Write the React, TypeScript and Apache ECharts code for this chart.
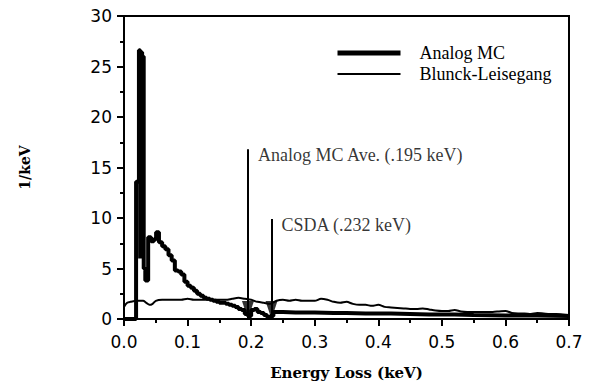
import React, { useEffect, useRef } from "react";
import * as echarts from "echarts";

// Analog MC histogram: bin left edges (keV) and heights (1/keV)
const analogEnergy = [
  0, 0.019, 0.0235, 0.0255, 0.0265, 0.0285, 0.0295, 0.031, 0.0335, 0.038,
  0.0425, 0.047, 0.0505, 0.055, 0.06, 0.065, 0.07, 0.075, 0.08, 0.085,
  0.09, 0.095, 0.1, 0.105, 0.11, 0.115, 0.12, 0.125, 0.13, 0.135,
  0.14, 0.145, 0.15, 0.155, 0.16, 0.165, 0.17, 0.175, 0.18, 0.185,
  0.19, 0.195, 0.2, 0.205, 0.21, 0.215, 0.22, 0.225, 0.23, 0.235,
  0.24, 0.25, 0.27, 0.3, 0.33, 0.35, 0.38, 0.42, 0.45, 0.48,
  0.52, 0.55, 0.6, 0.65, 0.7,
];
const analogValue = [
  0, 13.6, 26.6, 6.0, 26.4, 6.5, 26.0, 5.0, 3.8, 8.1,
  7.7, 7.9, 8.6, 7.6, 7.2, 6.9, 6.3, 5.8, 4.8, 4.7,
  4.4, 3.7, 3.3, 3.1, 2.8, 2.5, 2.3, 2.1, 2.0, 1.9,
  1.8, 1.7, 1.6, 1.6, 1.5, 1.4, 1.3, 1.2, 1.0, 0.9,
  0.5, 0.3, 0.9, 1.0, 0.7, 0.6, 0.4, 0.2, 0.3, 0.7,
  0.7, 0.65, 0.65, 0.6, 0.6, 0.55, 0.55, 0.5, 0.45, 0.45,
  0.4, 0.35, 0.35, 0.3, 0.3,
];

// Blunck-Leisegang curve
const blunckEnergy = [
  0, 0.005, 0.01, 0.02, 0.03, 0.035, 0.04, 0.045, 0.05, 0.06,
  0.07, 0.08, 0.09, 0.1, 0.11, 0.12, 0.13, 0.14, 0.15, 0.16,
  0.17, 0.18, 0.19, 0.2, 0.21, 0.22, 0.23, 0.24, 0.25, 0.26,
  0.27, 0.28, 0.29, 0.3, 0.31, 0.32, 0.33, 0.34, 0.35, 0.36,
  0.37, 0.38, 0.39, 0.4, 0.41, 0.42, 0.43, 0.44, 0.45, 0.46,
  0.47, 0.48, 0.49, 0.5, 0.51, 0.52, 0.53, 0.54, 0.55, 0.56,
  0.57, 0.58, 0.59, 0.6, 0.61, 0.62, 0.63, 0.64, 0.65, 0.66,
  0.67, 0.68, 0.69, 0.7,
];
const blunckValue = [
  1.2, 1.6, 1.7, 1.8, 1.8, 1.6, 1.4, 1.5, 1.8, 1.9,
  1.9, 1.9, 1.9, 2.0, 1.9, 1.9, 1.9, 1.9, 1.9, 1.9,
  2.0, 2.1, 2.0, 1.9, 1.7, 1.6, 1.5, 1.8, 1.9, 1.8,
  1.9, 1.8, 1.8, 1.8, 2.0, 1.9, 1.7, 1.6, 1.7, 1.5,
  1.4, 1.4, 1.3, 1.4, 1.2, 1.15, 1.1, 1.05, 1.0, 1.0,
  1.05, 0.95, 0.85, 0.8, 0.8, 0.9, 0.75, 0.7, 0.7, 0.7,
  0.7, 0.7, 0.75, 0.8, 0.6, 0.55, 0.55, 0.5, 0.6, 0.55,
  0.5, 0.5, 0.45, 0.4,
];

// Marker lines
const markerEnergy = [0.195, 0.232];
const markerHeight = [16.8, 9.9];
const markerText = ["Analog MC Ave. (.195 keV)", "CSDA (.232 keV)"];

const xTicks = [0, 0.1, 0.2, 0.3, 0.4, 0.5, 0.6, 0.7];
const yTicks = [0, 5, 10, 15, 20, 25, 30];

const SERIF = "'Liberation Serif', 'Times New Roman', serif";
const SANS = "'DejaVu Sans', sans-serif";
const TITLE = "'DejaVu Serif', serif";

export default function App() {
  const ref = useRef<HTMLDivElement>(null);

  useEffect(() => {
    if (!ref.current) return;
    const chart = echarts.init(ref.current, undefined, { renderer: "svg" });

    const analogData = analogEnergy.map((e, i) => [e, analogValue[i]]);
    const blunckData = blunckEnergy.map((e, i) => [e, blunckValue[i]]);

    chart.setOption({
      animation: false,
      backgroundColor: "#fff",
      grid: {
        left: 124,
        right: 24,
        top: 16,
        bottom: 65,
        show: true,
        borderColor: "#000",
        borderWidth: 2,
        backgroundColor: "transparent",
      },
      legend: {
        orient: "vertical",
        left: 330,
        top: 39,
        itemWidth: 63,
        itemHeight: 12,
        itemGap: 3,
        data: [
          { name: "Analog MC", lineStyle: { width: 5, color: "#000" } },
          { name: "Blunck-Leisegang", lineStyle: { width: 2, color: "#000" } },
        ],
        itemStyle: { opacity: 0 },
        textStyle: {
          fontFamily: SERIF,
          fontSize: 18,
          lineHeight: 18,
          color: "#000",
          padding: [0, 0, 0, 14],
        },
      },
      xAxis: {
        type: "value",
        min: xTicks[0],
        max: xTicks[xTicks.length - 1],
        interval: 0.1,
        name: "Energy Loss (keV)",
        nameLocation: "middle",
        nameGap: 46,
        nameTextStyle: {
          fontFamily: TITLE,
          fontWeight: "bold",
          fontSize: 15,
          color: "#000",
        },
        axisLine: { show: true, onZero: false, lineStyle: { color: "#000", width: 2 } },
        axisTick: { show: true, length: 7, lineStyle: { color: "#000", width: 2 } },
        minorTick: { show: true, splitNumber: 2, length: 4, lineStyle: { color: "#000", width: 2 } },
        splitLine: { show: false },
        axisLabel: {
          margin: 14,
          fontFamily: SANS,
          fontSize: 17,
          color: "#000",
          formatter: (v: number) => v.toFixed(1),
        },
      },
      yAxis: {
        type: "value",
        min: yTicks[0],
        max: yTicks[yTicks.length - 1],
        interval: 5,
        name: "1/keV",
        nameLocation: "middle",
        nameRotate: 90,
        nameGap: 92,
        nameTextStyle: {
          fontFamily: TITLE,
          fontWeight: "bold",
          fontSize: 14,
          color: "#000",
        },
        axisLine: { show: true, onZero: false, lineStyle: { color: "#000", width: 2 } },
        axisTick: { show: true, length: 7, lineStyle: { color: "#000", width: 2 } },
        minorTick: { show: true, splitNumber: 2, length: 4, lineStyle: { color: "#000", width: 2 } },
        splitLine: { show: false },
        axisLabel: {
          margin: 12,
          fontFamily: SANS,
          fontSize: 17,
          color: "#000",
        },
      },
      series: [
        {
          name: "Blunck-Leisegang",
          type: "line",
          data: blunckData,
          symbol: "none",
          smooth: 0.3,
          lineStyle: { color: "#000", width: 2 },
          itemStyle: { color: "#000" },
          z: 2,
        },
        {
          name: "Analog MC",
          type: "line",
          data: analogData,
          step: "end",
          symbol: "none",
          lineStyle: { color: "#000", width: 4 },
          itemStyle: { color: "#000" },
          z: 3,
          markLine: {
            silent: true,
            symbol: "none",
            label: { show: false },
            lineStyle: { color: "#000", width: 2, type: "solid" },
            data: markerEnergy.map((e, i) => [
              { coord: [e, 0] },
              { coord: [e, markerHeight[i]] },
            ]),
          },
        },
        {
          name: "markers",
          type: "scatter",
          data: markerEnergy.map((e) => [e, 0]),
          symbol: "triangle",
          symbolRotate: 180,
          symbolSize: [12, 18],
          symbolOffset: [0, -9],
          itemStyle: { color: "#000" },
          z: 4,
        },
        {
          name: "labels",
          type: "scatter",
          data: markerEnergy.map((e, i) => ({
            value: [e, markerHeight[i] - 0.6],
            label: { formatter: markerText[i] },
          })),
          symbolSize: 0,
          label: {
            show: true,
            position: "right",
            distance: 10,
            fontFamily: SERIF,
            fontSize: 18,
            color: "#000",
          },
          z: 5,
        },
      ],
    });

    return () => chart.dispose();
  }, []);

  return <div ref={ref} style={{ width: 593, height: 385, position: "absolute", left: 0, top: 0 }} />;
}
